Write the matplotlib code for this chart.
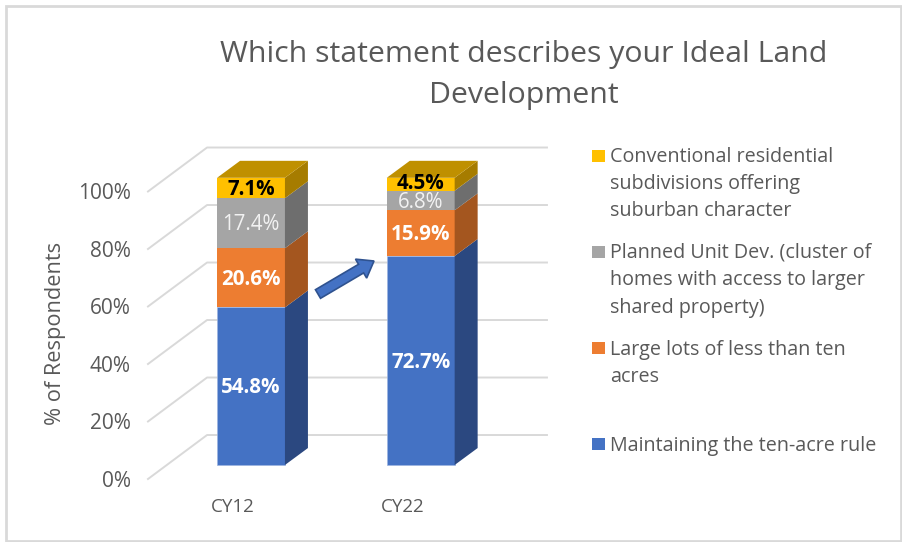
import matplotlib
matplotlib.use('Agg')
import matplotlib.pyplot as plt
from matplotlib.patches import Polygon, Rectangle, FancyArrow

plt.rcParams['font.family'] = ['Open Sans', 'DejaVu Sans']

title = 'Which statement describes your Ideal Land\nDevelopment'
years = ['CY12', 'CY22']
ticks = [0, 20, 40, 60, 80, 100]

# bottom to top of the stack
ten_acre = [54.8, 72.7]
large_lots = [20.6, 15.9]
planned = [17.4, 6.8]
conventional = [7.1, 4.5]
series = [ten_acre, large_lots, planned, conventional]

front = ['#4472C4', '#ED7D31', '#A5A5A5', '#FFC000']
side = ['#2B4880', '#A4561F', '#6E6E6E', '#A67C00']
top_col = '#BF9000'
label_col = ['white', 'white', '#f2f2f2', 'black']
label_weight = ['bold', 'bold', 'normal', 'bold']

legend_names = ['Conventional residential\nsubdivisions offering\nsuburban character',
                'Planned Unit Dev. (cluster of\nhomes with access to larger\nshared property)',
                'Large lots of less than ten\nacres',
                'Maintaining the ten-acre rule']
legend_cols = ['#FFC000', '#A5A5A5', '#ED7D31', '#4472C4']
legend_marker_y = [156, 252, 348, 444]
legend_text_y = [155, 251, 348, 444]

fig = plt.figure(figsize=(9.02, 5.42), dpi=100, facecolor='white')

# chart axes: x in category units, y in percent
ax = fig.add_axes([0, 0, 1, 1])
ax.set_xlim(-1.479, 3.836)
ax.set_ylim(-26.78, 161.74)
ax.axis('off')

# pixel axes for frame, title, legend and arrow
pix = fig.add_axes([0, 0, 1, 1])
pix.set_xlim(0, 902)
pix.set_ylim(542, 0)
pix.axis('off')
pix.patch.set_alpha(0)

pix.add_patch(Rectangle((5.5, 5.5), 895, 535, fill=False, edgecolor='#d9d9d9', lw=2))

bar_w = 0.4
depth_x = 0.1355
depth_y = 5.9

# back wall and floor offsets
wall_l, wall_r, wall_up = -0.259, 1.744, 10.43
near_l, near_down = -0.607, -4.87
for t in ticks:
    ax.plot([near_l, wall_l, wall_r], [t + near_down, t + wall_up, t + wall_up],
            color='#d9d9d9', lw=1.4, zorder=1)
    ax.text(-0.71, t + near_down - 0.7, '%d%%' % t, ha='right', va='center',
            fontsize=15, color='#595959')

for i in range(len(years)):
    base = 0
    for s in range(len(series)):
        v = series[s][i]
        left = i - bar_w / 2
        right = i + bar_w / 2
        ax.bar(i, v, bar_w, bottom=base, color=front[s], edgecolor='#9db5e0' if s == 0 else 'none',
               lw=0.5, zorder=3)
        ax.add_patch(Polygon([(right, base), (right + depth_x, base + depth_y),
                              (right + depth_x, base + v + depth_y), (right, base + v)],
                             facecolor=side[s], edgecolor='none', zorder=3))
        offset = 1 if s == 3 and v < 5 else 0
        ax.text(i, base + v / 2 + offset - 0.6, '%.1f%%' % v, ha='center', va='center', fontsize=14.8,
                color=label_col[s], fontweight=label_weight[s], zorder=5)
        base += v
    ax.add_patch(Polygon([(left, base), (right, base), (right + depth_x, base + depth_y),
                          (left + depth_x, base + depth_y)],
                         facecolor=top_col, edgecolor='none', zorder=3))
    ax.text(i - 0.105, -14.7, years[i], ha='center', va='center', fontsize=13.5, color='#595959')

pix.text(56, 333, '% of Respondents', rotation=90, ha='center', va='center',
         fontsize=15.7, color='#595959')
pix.text(524, 75, title, ha='center', va='center', fontsize=21.8, color='#595959', linespacing=1.55)

for name, col, my, ty in zip(legend_names, legend_cols, legend_marker_y, legend_text_y):
    pix.add_patch(Rectangle((592, my - 6), 13, 12, facecolor=col, edgecolor='none'))
    pix.text(610, ty - 8.5, name, ha='left', va='top', fontsize=14.2, color='#595959', linespacing=1.5)

pix.add_patch(FancyArrow(318, 294, 56, -33, width=10, head_width=22, head_length=15,
                         length_includes_head=True, facecolor='#4472C4', edgecolor='#2F528F', lw=1.2,
                         zorder=6))

fig.savefig('out.png', dpi=100)
